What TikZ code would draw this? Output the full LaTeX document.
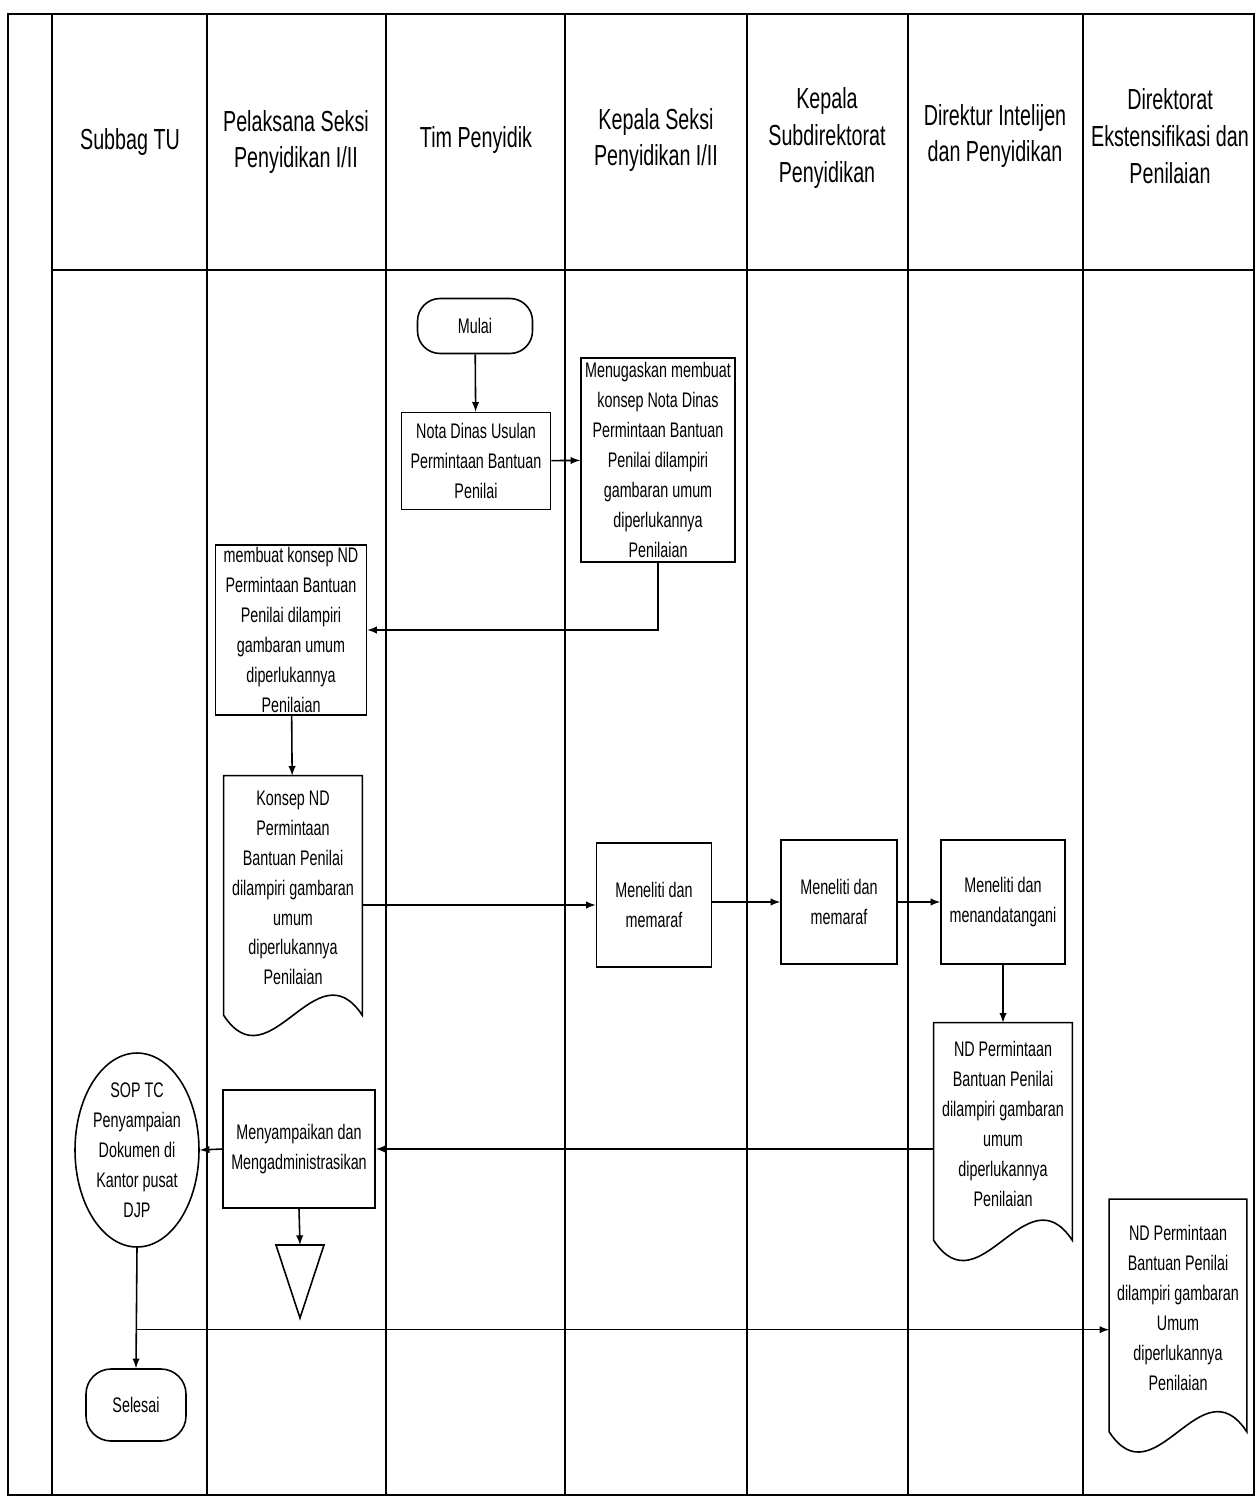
\documentclass[tikz,border=0pt]{standalone}
\usepackage{fontspec}
\setmainfont{Liberation Sans}[FakeStretch=0.68]
\usetikzlibrary{arrows,shapes,calc,positioning}

\tikzset{
  garis/.style={draw=black,line width=0.9pt},
  isi/.style={align=center,inner sep=1pt,font=\fontsize{12}{17}\selectfont},
  kotak/.style={garis,rectangle,isi},
  dok/.style={rectangle,isi},
  ujung/.style={garis,rectangle,rounded corners=0.45cm,isi},
  lingkar/.style={garis,ellipse,isi,inner sep=0pt},
  judul/.style={align=center,font=\fontsize{16.5}{21}\selectfont},
  panah/.style={garis,->,>=latex}
}

% bentuk dokumen (bawah bergelombang)
\newcommand{\dokumen}[1]{%
  \draw[garis] (#1.north west) -- (#1.north east) -- ($(#1.south east)+(0,15)$)
    .. controls ($(#1.south east)!0.333!(#1.south west)+(0,-55)$)
    and ($(#1.south west)!0.333!(#1.south east)+(0,85)$)
    .. ($(#1.south west)+(0,15)$) -- cycle;}

\begin{document}
\begin{tikzpicture}[x=0.02cm,y=-0.02cm]
\useasboundingbox (0,0) rectangle (1256,1500);
% kerangka lajur
\draw[garis] (8,14) rectangle (1254,1495);
\foreach \x in {52,207,386,565,747,908,1083}
  \draw[garis] (\x,14) -- (\x,1495);
\draw[garis] (52,270) -- (1254,270);

% judul lajur
\node[judul] (hSub) at (130,142) {Subbag TU};
\node[judul] (hPel) at (296,142) {Pelaksana Seksi\\Penyidikan I/II};
\node[judul] (hTim) at (476,140) {Tim Penyidik};
\node[judul] (hKep) at (656,140) {Kepala Seksi\\Penyidikan I/II};
\node[judul] (hSubdit) at (827,138) {Kepala\\Subdirektorat\\Penyidikan};
\node[judul] (hDir) at (995,136) {Direktur Intelijen\\dan Penyidikan};
\node[judul] (hEks) at (1170,136) {Direktorat\\Ekstensifikasi dan\\Penilaian};

% langkah
\node[ujung,minimum width=2.3cm,minimum height=1.1cm] (mulai) at (475,326) {Mulai};
\node[kotak,minimum width=2.98cm,minimum height=1.94cm] (nota) at (476,461)
  {Nota Dinas Usulan\\Permintaan Bantuan\\Penilai};
\node[kotak,minimum width=3.08cm,minimum height=4.08cm] (tugas) at (658,460)
  {Menugaskan membuat\\konsep Nota Dinas\\Permintaan Bantuan\\Penilai dilampiri\\gambaran umum\\diperlukannya\\Penilaian};
\node[kotak,minimum width=3.02cm,minimum height=3.4cm] (buat) at (291,630)
  {membuat konsep ND\\Permintaan Bantuan\\Penilai dilampiri\\gambaran umum\\diperlukannya\\Penilaian};
\node[dok,minimum width=2.76cm,minimum height=4.48cm] (konsep) at (293,888)
  {Konsep ND\\Permintaan\\Bantuan Penilai\\dilampiri gambaran\\umum\\diperlukannya\\Penilaian};
\dokumen{konsep}
\node[kotak,minimum width=2.3cm,minimum height=2.48cm] (paraf1) at (654,905)
  {Meneliti dan\\memaraf};
\node[kotak,minimum width=2.32cm,minimum height=2.48cm] (paraf2) at (839,902)
  {Meneliti dan\\memaraf};
\node[kotak,minimum width=2.48cm,minimum height=2.48cm] (ttd) at (1003,902)
  {Meneliti dan\\menandatangani};
\node[dok,minimum width=2.76cm,minimum height=4.04cm] (nd) at (1003,1124)
  {ND Permintaan\\Bantuan Penilai\\dilampiri gambaran\\umum\\diperlukannya\\Penilaian};
\dokumen{nd}
\node[kotak,minimum width=3.04cm,minimum height=2.36cm] (sampai) at (299,1149)
  {Menyampaikan dan\\Mengadministrasikan};
\node[lingkar,minimum width=2.22cm,minimum height=3.88cm] (sop) at (137,1150)
  {SOP TC\\Penyampaian\\Dokumen di\\Kantor pusat\\DJP};
\node[ujung,minimum width=2cm,minimum height=1.44cm,rounded corners=0.5cm] (selesai) at (136,1405) {Selesai};
\node[dok,minimum width=2.74cm,minimum height=4.34cm] (final) at (1178,1308)
  {ND Permintaan\\Bantuan Penilai\\dilampiri gambaran\\Umum\\diperlukannya\\Penilaian};
\dokumen{final}
\coordinate (arsip) at (300,1245);
\draw[garis] (arsip) ++(-24,0) -- ++(48,0) -- ($(arsip)+(0,73)$) -- cycle;

% alur panah
\draw[panah] (mulai) -- (nota);
\draw[panah] (nota) -- (tugas);
\draw[panah] (tugas.south) |- (buat.east);
\draw[panah] (buat) -- (konsep);
\draw[panah] (konsep.east |- paraf1.west) -- (paraf1.west);
\draw[panah] (paraf1.east |- paraf2.west) -- (paraf2.west);
\draw[panah] (paraf2.east |- ttd.west) -- (ttd.west);
\draw[panah] (ttd) -- (nd);
\draw[panah] (nd.west |- sampai.east) -- (sampai.east);
\draw[panah] (sampai.west) -- (sop.east);
\draw[panah] (sampai.south) -- (arsip);
\draw[panah] (sop.south) -- (selesai.north);
\coordinate (cabang) at ($(sop.south)!0.68!(selesai.north)$);
\draw[panah] (cabang) -- (cabang -| final.west);
\end{tikzpicture}
\end{document}
